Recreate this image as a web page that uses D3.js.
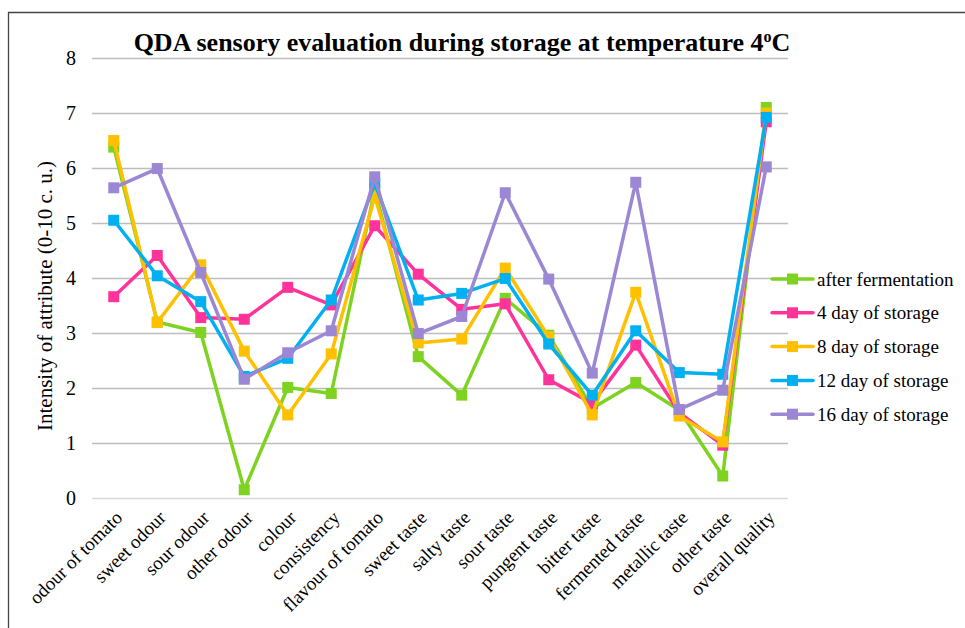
<!DOCTYPE html>
<html>
<head>
<meta charset="utf-8">
<script src="https://cdn.jsdelivr.net/npm/d3@7"></script>
<style>
  body { margin: 0; background: #fff; }
  svg text { font-family: "Liberation Serif", "Times New Roman", serif; fill: #000; }
</style>
</head>
<body>
<svg id="chart" width="965" height="628"></svg>
<script>
// attributes on the x axis
var attributes = ["odour of tomato", "sweet odour", "sour odour", "other odour", "colour",
  "consistency", "flavour of tomato", "sweet taste", "salty taste", "sour taste",
  "pungent taste", "bitter taste", "fermented taste", "metallic taste", "other taste",
  "overall quality"];

var seriesNames = ["after fermentation", "4 day of storage", "8 day of storage",
  "12 day of storage", "16 day of storage"];
var seriesColors = ["#7ed321", "#ff3399", "#ffc000", "#00b0f0", "#9b87d4"];

var afterFermentation = [6.38, 3.2, 3.01, 0.15, 2.01, 1.9, 5.6, 2.57, 1.87, 3.63, 2.96, 1.63, 2.1, 1.6, 0.4, 7.1];
var day4 = [3.66, 4.41, 3.28, 3.25, 3.83, 3.51, 4.95, 4.07, 3.43, 3.53, 2.15, 1.72, 2.78, 1.55, 0.96, 6.84];
var day8 = [6.5, 3.19, 4.24, 2.67, 1.51, 2.62, 5.48, 2.82, 2.89, 4.18, 2.93, 1.51, 3.74, 1.49, 1.02, 7.0];
var day12 = [5.05, 4.04, 3.57, 2.21, 2.54, 3.6, 5.72, 3.6, 3.72, 3.99, 2.8, 1.87, 3.04, 2.28, 2.25, 6.92];
var day16 = [5.64, 5.99, 4.1, 2.16, 2.64, 3.04, 5.84, 2.99, 3.3, 5.55, 3.98, 2.27, 5.74, 1.61, 1.96, 6.02];

var yTicks = [0, 1, 2, 3, 4, 5, 6, 7, 8];

(function () {
  "use strict";
  var svg = d3.select("#chart"),
    allSeries = [afterFermentation, day4, day8, day12, day16],
    x = d3.scaleBand().domain(attributes).range([92, 788]),
    y = d3.scaleLinear().domain([0, 8]).range([498, 58]);

  // outer frame (only top and left visible)
  svg.append("path")
    .attr("d", "M8.5,628 L8.5,12.5 L965,12.5")
    .attr("fill", "none")
    .attr("stroke", "#444")
    .attr("stroke-width", 1.3);

  // gridlines
  svg.append("g").selectAll("line").data(yTicks).enter().append("line")
    .attr("x1", 92).attr("x2", 788)
    .attr("y1", function (d) { return y(d) + 0.5; })
    .attr("y2", function (d) { return y(d) + 0.5; })
    .attr("stroke", function (d) { return d === 0 ? "#d9d9d9" : "#bdbdbd"; })
    .attr("stroke-width", 1.5);

  // y axis labels
  var yAxis = d3.axisLeft(y).tickValues(yTicks).tickSize(0).tickPadding(0)
    .tickFormat(d3.format("d"));
  var yg = svg.append("g").attr("transform", "translate(76,0)").call(yAxis);
  yg.select(".domain").remove();
  yg.selectAll("text").attr("font-size", 20).attr("font-family", "Liberation Serif");

  // x axis labels
  var xAxis = d3.axisBottom(x).tickSize(0).tickPadding(0);
  var xg = svg.append("g").attr("transform", "translate(0,510)").call(xAxis);
  xg.select(".domain").remove();
  xg.selectAll("text")
    .attr("font-size", 19)
    .attr("font-family", "Liberation Serif")
    .attr("text-anchor", "end")
    .attr("dy", "0.35em")
    .attr("transform", "translate(5,4) rotate(-45)");

  // y axis title
  svg.append("text")
    .attr("transform", "translate(52,296) rotate(-90)")
    .attr("text-anchor", "middle")
    .attr("font-size", 21)
    .text("Intensity of attribute (0-10 c. u.)");

  // chart title
  var title = svg.append("text")
    .attr("x", 462).attr("y", 51)
    .attr("text-anchor", "middle")
    .attr("font-size", 26)
    .attr("font-weight", "bold");
  title.append("tspan").text("QDA sensory evaluation during storage at temperature 4");
  title.append("tspan").attr("font-size", 16).attr("dy", -9).text("o");
  title.append("tspan").attr("dy", 9).text("C");

  // lines
  var line = d3.line()
    .x(function (d, i) { return x(attributes[i]) + x.bandwidth() / 2; })
    .y(function (d) { return y(d); });

  allSeries.forEach(function (vals, s) {
    var g = svg.append("g");
    g.append("path")
      .datum(vals)
      .attr("d", line)
      .attr("fill", "none")
      .attr("stroke", seriesColors[s])
      .attr("stroke-width", 3.5)
      .attr("stroke-linejoin", "round");
    g.selectAll("rect").data(vals).enter().append("rect")
      .attr("x", function (d, i) { return x(attributes[i]) + x.bandwidth() / 2 - 5.5; })
      .attr("y", function (d) { return y(d) - 5.5; })
      .attr("width", 11).attr("height", 11)
      .attr("fill", seriesColors[s]);
  });

  // legend
  var legend = svg.append("g").selectAll("g").data(seriesNames).enter().append("g")
    .attr("transform", function (d, i) { return "translate(770," + (279 + i * 33.8) + ")"; });
  legend.append("line")
    .attr("x1", 2).attr("x2", 43)
    .attr("stroke", function (d, i) { return seriesColors[i]; })
    .attr("stroke-width", 3.5)
    .attr("stroke-linecap", "round");
  legend.append("rect")
    .attr("x", 17).attr("y", -5.5).attr("width", 11).attr("height", 11)
    .attr("fill", function (d, i) { return seriesColors[i]; });
  legend.append("text")
    .attr("x", 47).attr("dy", "0.35em")
    .attr("font-size", 19)
    .text(function (d) { return d; });
}());
</script>
</body>
</html>
